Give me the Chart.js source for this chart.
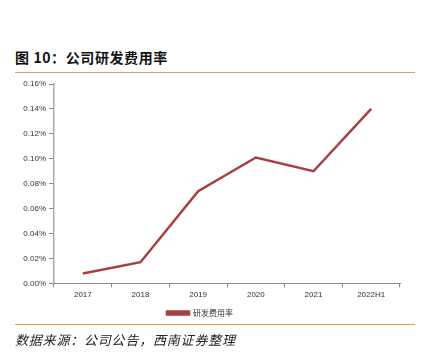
<!DOCTYPE html>
<html><head><meta charset="utf-8">
<script src="https://cdn.jsdelivr.net/npm/chart.js@4"></script>
<style>
html,body{margin:0;padding:0;background:#fff;width:423px;height:356px;overflow:hidden;}
#title{position:absolute;left:15px;top:47px;font:bold 14px "Noto Sans CJK SC",sans-serif;letter-spacing:0.6px;color:#111;line-height:20px;}
#l1{position:absolute;left:15px;top:72px;width:400px;height:1px;background:#c9a66b;}
#l2{position:absolute;left:15px;top:324px;width:400px;height:1px;background:#e0a040;}
#src{position:absolute;left:15px;top:331px;font:italic 13px "Noto Sans CJK SC",sans-serif;letter-spacing:0.8px;color:#222;line-height:18px;}
#wrap{position:absolute;left:0;top:76px;width:423px;height:251px;}
</style></head><body>
<div id="title">图 10：公司研发费用率</div>
<div id="l1"></div>
<div id="wrap"><canvas id="c"></canvas></div>
<div id="l2"></div>
<div id="src">数据来源：公司公告，西南证券整理</div>
<script>
const categories = ["2017","2018","2019","2020","2021","2022H1"];
const seriesName = "研发费用率";
const values = [0.008, 0.017, 0.074, 0.101, 0.090, 0.140];
const yTicks = [0,0.02,0.04,0.06,0.08,0.10,0.12,0.14,0.16];

const tickFont = {family:"'Liberation Sans', Arial, sans-serif", size:8};
new Chart(document.getElementById('c'), {
  type:'line',
  data:{labels:categories, datasets:[{label:seriesName, data:values, borderColor:'#a5403f', backgroundColor:'#a5403f', borderWidth:2.5, pointRadius:0, tension:0}]},
  options:{
    responsive:true, maintainAspectRatio:false, animation:false,
    layout:{padding:{top:8,right:23,left:0,bottom:0}},
    plugins:{
      legend:{position:'bottom', labels:{font:{family:"'Noto Sans CJK SC',sans-serif",size:8}, color:'#333', boxWidth:22, boxHeight:3, padding:6}},
      tooltip:{enabled:false}
    },
    scales:{
      x:{offset:true, grid:{display:true, drawOnChartArea:false, offset:true, color:'#888', tickLength:4}, border:{color:'#888',width:1},
         ticks:{font:tickFont, color:'#333', padding:3, maxRotation:0}},
      y:{min:0,max:0.16, afterFit:s=>{s.width=54;}, afterBuildTicks:s=>{s.ticks=yTicks.map(v=>({value:v}));},
         grid:{display:true, drawOnChartArea:false, color:'#888', tickLength:5}, border:{color:'#aaa',width:1.5},
         ticks:{font:tickFont, color:'#333', padding:3, callback:v=>v.toFixed(2)+'%'}}
    }
  }
});
</script></body></html>
